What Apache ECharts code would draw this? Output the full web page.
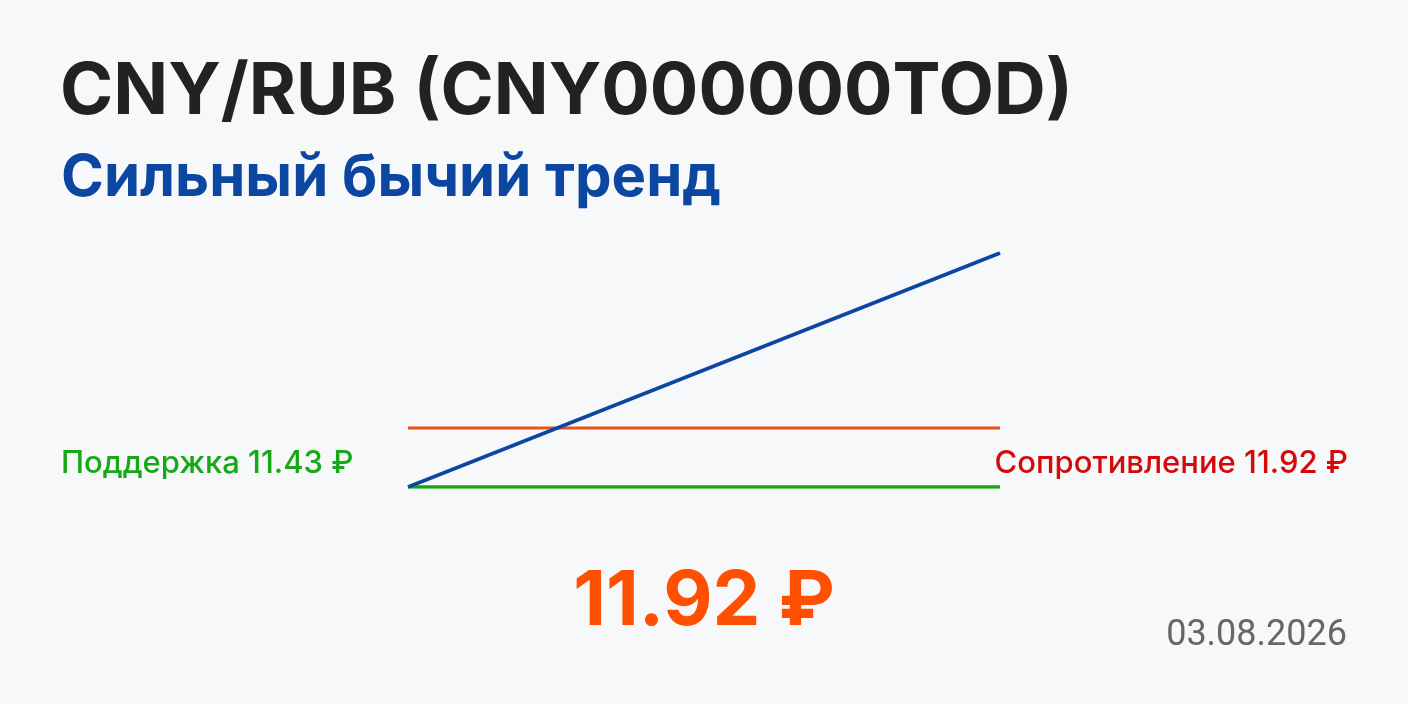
<!DOCTYPE html>
<html><head><meta charset="utf-8">
<script src="https://cdn.jsdelivr.net/npm/echarts@6/dist/echarts.min.js"></script>
<style>html,body{margin:0;padding:0;background:#f7f8fa;}#c{width:1408px;height:704px;}</style>
</head><body><div id="c"></div>
<script>
const ticker = 'CNY/RUB (CNY000000TOD)';
const trendName = 'Сильный бычий тренд';
const categories = ['start', 'end'];
const trendValues = [11.43, 13.37];
const supportValues = [11.43, 11.43];
const resistanceValues = [11.92, 11.92];
const supportLevel = 11.43;
const resistanceLevel = 11.92;
const lastPrice = 11.92;
const dateLabel = '03.08.2026';

const FI = 'Inter, "Noto Sans", sans-serif';
const FR = 'Roboto, "Noto Sans", sans-serif';
const chart = echarts.init(document.getElementById('c'));
chart.setOption({
  backgroundColor: '#f7f8fa',
  animation: false,
  title: [
    { text: ticker, left: 55, top: 42, textStyle: { fontFamily: FI, fontSize: 72, fontWeight: 'bold', color: '#222222', lineHeight: 90 } },
    { text: trendName, left: 56, top: 142, textStyle: { fontFamily: FI, fontSize: 58, fontWeight: 'bold', color: '#0b47a1', lineHeight: 64 } },
    { text: 'Поддержка ' + supportLevel.toFixed(2) + ' ₽', left: 56, top: 441, textStyle: { fontFamily: FI, fontSize: 31, fontWeight: 500, color: '#17a817', lineHeight: 36 } },
    { text: 'Сопротивление ' + resistanceLevel.toFixed(2) + ' ₽', right: 55, top: 441, textStyle: { fontFamily: FI, fontSize: 31, fontWeight: 500, color: '#d40a0a', lineHeight: 36 } },
    { text: lastPrice.toFixed(2) + ' ₽', left: 'center', top: 552, textStyle: { fontFamily: FI, fontSize: 76, fontWeight: 'bold', color: '#ff4f00', lineHeight: 90 } },
    { text: dateLabel, right: 56, top: 610, textStyle: { fontFamily: FR, fontSize: 36, fontWeight: 'normal', color: '#666666', lineHeight: 42 } }
  ],
  grid: { left: 408, right: 408, top: 253, bottom: 217 },
  xAxis: { type: 'category', data: categories, boundaryGap: false, show: false },
  yAxis: { type: 'value', min: 11.43, max: 13.37, show: false },
  series: [
    { type: 'line', data: resistanceValues, symbol: 'none', lineStyle: { color: '#e8521c', width: 3 } },
    { type: 'line', data: supportValues, symbol: 'none', lineStyle: { color: '#13a813', width: 3.5 } },
    { type: 'line', data: trendValues, symbol: 'none', lineStyle: { color: '#0b47a1', width: 3.5 } }
  ]
});
</script></body></html>
